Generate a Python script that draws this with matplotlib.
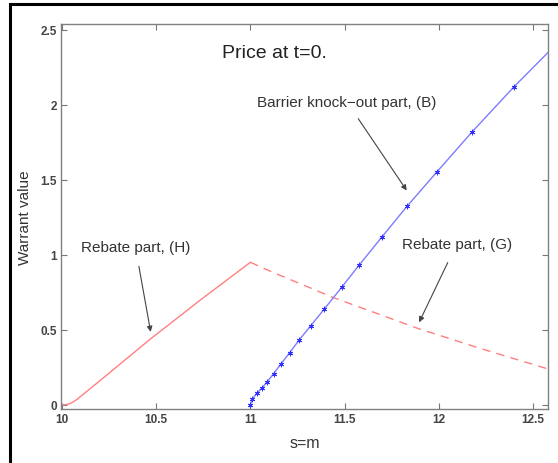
import matplotlib.pyplot as plt
from matplotlib.patches import Rectangle
from matplotlib.ticker import FuncFormatter

plt.rcParams['font.family'] = ['Liberation Sans', 'DejaVu Sans']

# barrier knock-out part (B)
s_b = [11.0, 11.011, 11.035, 11.062, 11.088, 11.123, 11.162, 11.208, 11.259, 11.321,
       11.393, 11.485, 11.578, 11.697, 11.832, 11.991, 12.178, 12.40, 12.58]
v_b = [0.0, 0.04, 0.08, 0.113, 0.153, 0.207, 0.273, 0.347, 0.433, 0.529,
       0.64, 0.785, 0.933, 1.118, 1.325, 1.555, 1.822, 2.122, 2.35]

# rebate part (H), solid
s_h = [10.0, 10.02, 10.04, 10.06, 10.08, 10.1, 10.2, 10.47, 10.735, 11.0]
v_h = [0.0, 0.002, 0.008, 0.02, 0.037, 0.058, 0.16, 0.44, 0.70, 0.951]

# rebate part (G), dashed
s_g = [11.0, 11.12, 11.3, 11.44, 11.65, 11.89, 12.2, 12.58]
v_g = [0.951, 0.884, 0.79, 0.716, 0.62, 0.51, 0.385, 0.24]

xticks = [10, 10.5, 11, 11.5, 12, 12.5]
yticks = [0, 0.5, 1, 1.5, 2, 2.5]

fig = plt.figure(figsize=(5.58, 4.64), dpi=100)
ax = fig.add_axes([61 / 558, 1 - 410 / 464, 487 / 558, 385 / 464])

ax.plot(s_h, v_h, color='#ff8080', lw=1.0)
ax.plot(s_g, v_g, color='#ff8080', lw=1.0, ls=(0, (6, 4.5)))
ax.plot(s_b, v_b, color='#7c7cff', lw=1.0, marker=(6, 2, 0), ms=4,
        mfc='#3030ff', mec='#3030ff', mew=0.6, markevery=list(range(len(s_b) - 1)))

ax.set_xlim(9.995, 12.58)
ax.set_ylim(-0.027, 2.54)
ax.set_xticks(xticks)
ax.set_yticks(yticks)
fmt = FuncFormatter(lambda v, p: '%g' % v)
ax.xaxis.set_major_formatter(fmt)
ax.yaxis.set_major_formatter(fmt)
ax.tick_params(direction='in', top=True, right=True, length=4, width=0.8,
               color='#777777', labelsize=8.5, labelcolor='#444444', pad=3)
for lbl in ax.get_xticklabels() + ax.get_yticklabels():
    lbl.set_fontweight('bold')
for sp in ax.spines.values():
    sp.set_color('#808080')
    sp.set_linewidth(1.0)

ax.set_xlabel('s=m', fontsize=11.5, color='#333333', labelpad=7)
ax.set_ylabel('Warrant value', fontsize=11, color='#333333', labelpad=6)

txt = dict(fontsize=11, color='#333333')
ax.text(11.13, 2.35, 'Price at t=0.', fontsize=14, color='#222222', ha='center', va='center')
arrow = dict(arrowstyle='-|>', color='#444444', lw=0.8, mutation_scale=8)
ax.annotate('Barrier knock\u2212out part, (B)', xy=(11.83, 1.43), xytext=(11.513, 2.02),
            ha='center', va='center', arrowprops=dict(arrow, shrinkA=6, shrinkB=0), **txt)
ax.annotate('Rebate part, (H)', xy=(10.471, 0.487), xytext=(10.39, 1.053),
            ha='center', va='center', arrowprops=dict(arrow, shrinkA=7, shrinkB=0), **txt)
ax.annotate('Rebate part, (G)', xy=(11.896, 0.551), xytext=(12.095, 1.073),
            ha='center', va='center', arrowprops=dict(arrow, shrinkA=7, shrinkB=0), **txt)

# black frame round the picture
fig.add_artist(Rectangle((10 / 558, -0.2), 1.2, 1.2 - 5 / 464, transform=fig.transFigure,
                         fill=False, ec='black', lw=2.2))

fig.savefig('out.png', dpi=100)
